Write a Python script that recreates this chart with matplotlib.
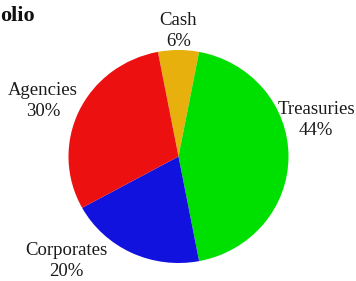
import matplotlib.pyplot as plt

labels = ['Cash', 'Treasuries', 'Corporates', 'Agencies']
shares = [6, 44, 20, 30]
colors = ['#E8B00C', '#00E000', '#1212DE', '#EC1010']
# label positions in units of the pie radius
label_xy = [(0.0, 1.18), (1.25, 0.34), (-1.02, -0.98), (-1.23, 0.52)]

plt.rcParams['font.family'] = ['Liberation Serif', 'DejaVu Serif']

fig = plt.figure(figsize=(3.56, 2.81), dpi=100)
ax = fig.add_axes([0, 0, 1, 1])

start = 90 + shares[0] * 3.6 / 2
ax.pie(shares, colors=colors, startangle=start, counterclock=False,
       radius=1.0, center=(0, 0), wedgeprops={'linewidth': 0})

for name, val, (x, y) in zip(labels, shares, label_xy):
    ax.text(x, y, f'{name}\n{val}%', ha='center', va='center',
            fontsize=13.5, linespacing=1.3, color='#1a1a1a')

# figure is 356x281 px, pie center ~ (178.5,156.5) px, slightly wider than tall
cx, cy, rx, ry = 178.5, 156.5, 110.0, 106.5
ax.set_xlim(-cx / rx, (356 - cx) / rx)
ax.set_ylim(-(281 - cy) / ry, cy / ry)
ax.set_aspect('auto')
ax.axis('off')

# title is cropped in the reference, only its tail is visible
fig.text(0.5 / 356, 1 - 16 / 281, 'olio', ha='left', va='center',
         fontsize=16, fontweight='bold', color='#111111')

fig.savefig('out.png', dpi=100)
